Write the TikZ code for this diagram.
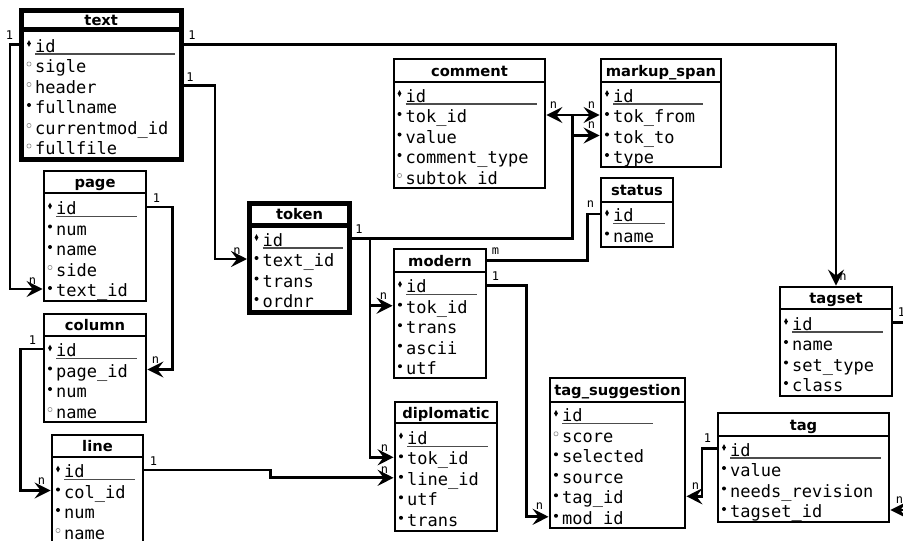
\documentclass[tikz,border=0pt]{standalone}
\usepackage{fontspec}
\setmainfont{DejaVu Sans}
\newfontfamily\ermono{DejaVu Sans Mono}
\usetikzlibrary{arrows.meta,calc}

\tikzset{
  tbl/.style={draw, rectangle, inner sep=0pt, anchor=center},
  ttl/.style={font=\bfseries\fontsize{14.7}{17}\selectfont, inner sep=0pt, text height=12pt, text depth=1pt},
  fld/.style={font=\ermono\fontsize{17}{20}\selectfont, inner sep=0pt, text height=15pt, text depth=0pt, anchor=base west},
  lbl/.style={font=\ermono\fontsize{12}{14}\selectfont, inner sep=0pt},
  conn/.style={line width=2.7pt},
  arr/.style={conn, -{Stealth[length=16pt,width=16pt,inset=6pt]}},
  uline/.style={line width=1.3pt, draw=black!70},
}

\def\erfirst{20.5}
% #1 name, #2 line width, #3 left, #4 top, #5 right, #6 bottom, #7 divider, #8 title, #9 text offset
\newcommand\ertab[9]{%
  \node[tbl, line width=#2pt, minimum width={(#5-#3)*1pt}, minimum height={(#6-#4)*1pt}] (#1) at ({(#3+#5)/2},{(#4+#6)/2}) {};%
  \draw[line width=#2pt] (#3,#7) -- (#5,#7);%
  \node[ttl] (#1-title) at ({(#3+#5)/2},{(#4+#7)/2}) {#8};%
  \pgfmathsetmacro\erx{#3+#9}%
  \pgfmathsetmacro\ery{#7+\erfirst}%
}
\newcommand\ermkk{\fill ({\erx-6},{\ery-8.5}) circle (2pt);}
\newcommand\ermko{\draw[black!40, line width=0.7pt] ({\erx-6},{\ery-8.5}) circle (2.1pt);}
% key field: #1 name, #2 text, #3 underline end
\newcommand\erid[3]{%
  \node[fld] (#1) at (\erx,\ery) {#2};%
  \fill ({\erx-6},{\ery-11.8}) -- ({\erx-4.1},{\ery-8.5}) -- ({\erx-6},{\ery-5.2}) -- ({\erx-7.9},{\ery-8.5}) -- cycle;%
  \draw[uline] (\erx,{\ery+2}) -- (#3,{\ery+2});%
  \pgfmathsetmacro\ery{\ery+20.5}%
}
% field: #1 name, #2 marker (k filled / o open), #3 text
\newcommand\erfd[3]{%
  \node[fld] (#1) at (\erx,\ery) {#3};%
  \csname ermk#2\endcsname%
  \pgfmathsetmacro\ery{\ery+20.5}%
}

\begin{document}
\begin{tikzpicture}[x=1pt,y=-1pt]
\fill[white] (0,0) rectangle (903,541);
\useasboundingbox (0,0) rectangle (903,541);

% ---- tables ----
\def\erfirst{22.5}
\ertab{text}{5}{21}{10.5}{181.5}{159.5}{29.5}{text}{14}
\erid{text-id}{id}{175}
\erfd{text-sigle}{o}{sigle}
\erfd{text-header}{o}{header}
\erfd{text-fullname}{k}{fullname}
\erfd{text-currentmodid}{o}{currentmod\_id}
\erfd{text-fullfile}{o}{fullfile}

\def\erfirst{21.5}
\ertab{page}{2.8}{44}{171}{146}{301}{193}{page}{12}
\erid{page-id}{id}{137}
\erfd{page-num}{k}{num}
\erfd{page-name}{k}{name}
\erfd{page-side}{o}{side}
\erfd{page-textid}{k}{text\_id}

\def\erfirst{20.5}
\ertab{column}{2.8}{44}{314}{146}{422}{336}{column}{12}
\erid{column-id}{id}{137}
\erfd{column-pageid}{k}{page\_id}
\erfd{column-num}{k}{num}
\erfd{column-name}{o}{name}

\ertab{line}{2.8}{52}{435}{143}{560}{457}{line}{12}
\erid{line-id}{id}{135}
\erfd{line-colid}{k}{col\_id}
\erfd{line-num}{k}{num}
\erfd{line-name}{o}{name}

\def\erfirst{21}
\ertab{token}{5}{249.5}{203.5}{349.5}{312.5}{225}{token}{13}
\erid{token-id}{id}{343}
\erfd{token-textid}{k}{text\_id}
\erfd{token-trans}{k}{trans}
\erfd{token-ordnr}{k}{ordnr}

\def\erfirst{20}
\ertab{comment}{2.8}{394}{59}{545}{188}{82}{comment}{11.5}
\erid{comment-id}{id}{537}
\erfd{comment-tokid}{k}{tok\_id}
\erfd{comment-value}{k}{value}
\erfd{comment-type}{k}{comment\_type}
\erfd{comment-subtokid}{o}{subtok\_id}

\ertab{markup}{2.8}{601}{59}{721}{167}{82}{markup\_span}{12}
\erid{markup-id}{id}{703}
\erfd{markup-tokfrom}{k}{tok\_from}
\erfd{markup-tokto}{k}{tok\_to}
\erfd{markup-type}{k}{type}

\def\erfirst{19.5}
\ertab{status}{2.8}{601}{178}{673}{247}{202}{status}{12}
\erid{status-id}{id}{665}
\erfd{status-name}{k}{name}

\def\erfirst{20.7}
\ertab{modern}{2.8}{394}{249}{486}{378}{272}{modern}{12}
\erid{modern-id}{id}{477}
\erfd{modern-tokid}{k}{tok\_id}
\erfd{modern-trans}{k}{trans}
\erfd{modern-ascii}{k}{ascii}
\erfd{modern-utf}{k}{utf}

\def\erfirst{21.3}
\ertab{diplomatic}{2.8}{395}{402}{497}{531}{423}{diplomatic}{12}
\erid{diplomatic-id}{id}{488}
\erfd{diplomatic-tokid}{k}{tok\_id}
\erfd{diplomatic-lineid}{k}{line\_id}
\erfd{diplomatic-utf}{k}{utf}
\erfd{diplomatic-trans}{k}{trans}

\def\erfirst{19.8}
\ertab{tagsug}{2.8}{550}{378}{685}{528}{402}{tag\_suggestion}{12}
\erid{tagsug-id}{id}{653}
\erfd{tagsug-score}{o}{score}
\erfd{tagsug-selected}{k}{selected}
\erfd{tagsug-source}{k}{source}
\erfd{tagsug-tagid}{k}{tag\_id}
\erfd{tagsug-modid}{k}{mod\_id}

\def\erfirst{20}
\ertab{tag}{2.8}{718}{413}{889}{522}{436}{tag}{12}
\erid{tag-id}{id}{881}
\erfd{tag-value}{k}{value}
\erfd{tag-needsrev}{k}{needs\_revision}
\erfd{tag-tagsetid}{k}{tagset\_id}

\def\erfirst{21}
\ertab{tagset}{2.8}{780}{287}{892}{396}{309}{tagset}{12}
\erid{tagset-id}{id}{883}
\erfd{tagset-name}{k}{name}
\erfd{tagset-settype}{k}{set\_type}
\erfd{tagset-class}{k}{class}

% ---- connectors ----
\draw[arr] (text.east |- text-id.west) node[lbl,shift={(8,-9)}]{1} -| (tagset.north) node[lbl,shift={(7,-8)}]{n};
\draw[arr] (text.west |- text-id.west) node[lbl,shift={(-9,-9)}]{1} -- ++(-8.5,0) |- (page.west |- page-textid.west) node[lbl,shift={(-10,-8)}]{n};
\draw[arr] (text.east |- text-header.west) node[lbl,shift={(6,-8)}]{1} -- ++(31,0) |- (token.west |- token-textid.west) node[lbl,shift={(-10,-8)}]{n};
\draw[arr] (page.east |- page-id.west) node[lbl,shift={(9,-9)}]{1} -- ++(25,0) |- (column.east |- column-pageid.west) node[lbl,shift={(8,-9)}]{n};
\draw[arr] (column.west |- column-id.west) node[lbl,shift={(-10,-9)}]{1} -- ++(-22,0) |- (line.west |- line-colid.west) node[lbl,shift={(-9,-9)}]{n};
\draw[arr] (line.east |- line-id.west) node[lbl,shift={(9,-9)}]{1} -- ++(125.75,0) |- (diplomatic.west |- diplomatic-lineid.west) node[lbl,shift={(-9,-8)}]{n};

\draw[conn] (token.east |- token-id.west) node[lbl,shift={(7,-9)}]{1} -- ++(18,0) coordinate (tj);
\draw[arr] (tj) |- (modern.west |- modern-tokid.west) node[lbl,shift={(-9,-10)}]{n};
\draw[arr] (tj) |- (diplomatic.west |- diplomatic-tokid.west) node[lbl,shift={(-9,-9)}]{n};

\coordinate (hub) at ($(comment.east |- comment-tokid.west)+(25.75,0)$);
\draw[conn] (tj) -| (hub);
\draw[arr] (hub) -- (comment.east |- hub) node[lbl,shift={(7,-10)}]{n};
\draw[arr] (hub) -- (markup.west |- hub) node[lbl,shift={(-8,-10)}]{n};
\draw[arr] (hub |- markup-tokto.west) -- (markup.west |- markup-tokto.west) node[lbl,shift={(-8,-10)}]{n};

\draw[conn] (modern.east |- modern-title) node[lbl,shift={(8,-9)}]{m} -- ++(99.75,0) |- (status.west |- status-id.west) node[lbl,shift={(-9,-10)}]{n};
\draw[arr] (modern.east |- modern-id.west) node[lbl,shift={(8,-9)}]{1} -- ++(38.75,0) |- (tagsug.west |- tagsug-modid.west) node[lbl,shift={(-9,-11)}]{n};
\draw[arr] (tag.west |- tag-id.west) node[lbl,shift={(-9,-10)}]{1} -- ++(-14.75,0) |- (tagsug.east |- tagsug-tagid.west) node[lbl,shift={(9,-10)}]{n};
\draw[arr] (tagset.east |- tagset-id.west) node[lbl,shift={(8,-10)}]{1} -- ++(25,0) |- (tag.east |- tag-tagsetid.west) node[lbl,shift={(9,-10)}]{n};
\end{tikzpicture}
\end{document}
